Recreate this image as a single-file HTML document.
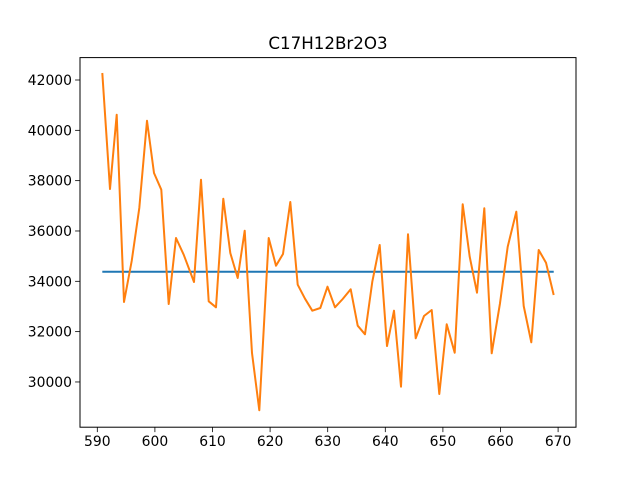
<!DOCTYPE html>
<html><head><meta charset="utf-8"><style>
body{margin:0;background:#fff;}
svg{display:block;font-family:"DejaVu Sans","Liberation Sans",sans-serif;}
</style></head><body>
<svg id="chart" width="640" height="480" xmlns="http://www.w3.org/2000/svg">
<rect width="640" height="480" fill="#fff"/>
<text x="328" y="49" font-size="16.7" text-anchor="middle">C17H12Br2O3</text>
<g id="plot"></g>
</svg>
<script>
const xValues=[590.87,592.2,593.37,594.64,595.97,597.29,598.63,599.84,601.11,602.4,603.66,605.0,606.79,608.0,609.34,610.61,611.88,613.09,614.38,615.59,616.86,618.13,619.76,621.02,622.24,623.51,624.79,626.06,627.33,628.72,629.97,631.27,632.6,633.99,635.21,636.48,637.74,639.03,640.3,641.51,642.73,643.94,645.28,646.72,648.05,649.38,650.66,652.05,653.44,654.65,655.92,657.19,658.47,659.91,661.25,662.74,664.03,665.35,666.63,667.9,669.24];
const yValues=[42278,37668,40621,33178,34807,36913,40383,38304,37641,33098,35721,35057,33973,38038,33205,32967,37283,35125,34131,36011,31151,28874,35721,34620,35085,37152,33865,33309,32832,32939,33786,32967,33297,33682,32236,31894,33984,35443,31429,32832,29812,35868,31735,32621,32860,29522,32292,31163,37060,34978,33547,36901,31139,33126,35375,36766,33019,31576,35244,34739,33456];
const meanValue=[34382];
const xTicks=[590,600,610,620,630,640,650,660,670];
const yTicks=[30000,32000,34000,36000,38000,40000,42000];
const NS="http://www.w3.org/2000/svg";
const L=80,R=576,T=57.6,B=427.2;
function sx(v){return 97.3+(v-590)*5.76;}
function sy(v){return 80+(42000-v)/39.74;}
const g=document.getElementById('plot');
function mk(tag,attrs,parent){const e=document.createElementNS(NS,tag);for(const k in attrs)e.setAttribute(k,attrs[k]);(parent||g).appendChild(e);return e;}
// mean line
const mean=mk('line',{x1:sx(xValues[0]),x2:sx(xValues[xValues.length-1]),y1:sy(meanValue[0]),y2:sy(meanValue[0]),stroke:'#1f77b4','stroke-width':2});


// series
const pts=xValues.map((x,i)=>sx(x).toFixed(1)+','+sy(yValues[i]).toFixed(1)).join(' ');
const series=mk('polyline',{points:pts,fill:'none',stroke:'#ff7f0e','stroke-width':2,'stroke-linejoin':'round'});


// frame
const frame=mk('rect',{x:L,y:T,width:R-L,height:B-T,fill:'none',stroke:'#000','stroke-width':1});


xTicks.forEach(t=>{
  const x=sx(t);
  const tk=mk('line',{x1:x,x2:x,y1:B,y2:B+4.9,stroke:'#000','stroke-width':0.8});
  
  
  const lb=mk('text',{x:x,y:B+19,'font-size':13.9,'text-anchor':'middle'});
  lb.textContent=t;
  
  
});
yTicks.forEach(t=>{
  const y=sy(t);
  const tk=mk('line',{x1:L-4.9,x2:L,y1:y,y2:y,stroke:'#000','stroke-width':0.8});
  
  
  const lb=mk('text',{x:L-8,y:y+5,'font-size':13.9,'text-anchor':'end'});
  lb.textContent=t;
  
  
});
</script>
</body></html>
